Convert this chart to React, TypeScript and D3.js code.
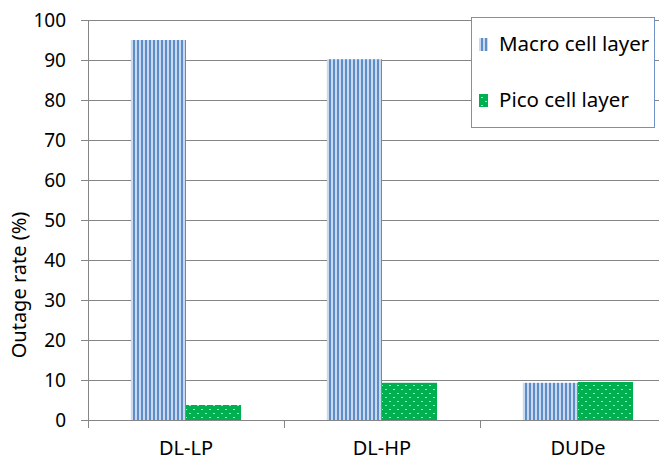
import React, { useEffect, useRef } from 'react'
import * as d3 from 'd3'

const categories = ['DL-LP', 'DL-HP', 'DUDe']
const seriesNames = ['Macro cell layer', 'Pico cell layer']
const macroValues = [95, 90.2, 9.3]
const picoValues = [3.75, 9.3, 9.5]
const yTicks = [0, 10, 20, 30, 40, 50, 60, 70, 80, 90, 100]

const FONT = '"Noto Sans", sans-serif'

export default function App() {
  const ref = useRef<SVGSVGElement | null>(null)

  useEffect(() => {
    const svg = d3.select(ref.current)
    svg.selectAll('*').remove()

    const width = 659, height = 461
    const left = 88, right = 676, top = 20, bottom = 420

    const x = d3.scaleBand().domain(categories).range([left, right])
    const inner = d3.scaleBand().domain(seriesNames).range([0, x.bandwidth()]).paddingOuter(0.78)
    const y = d3.scaleLinear().domain([0, 100]).range([bottom, top])

    const defs = svg.append('defs')
    const stripes = defs.append('pattern')
      .attr('id', 'stripes')
      .attr('patternUnits', 'userSpaceOnUse')
      .attr('width', 4).attr('height', 4)
    stripes.append('rect').attr('width', 4).attr('height', 4).attr('fill', '#c9daf0')
    stripes.append('rect').attr('x', 1).attr('width', 2).attr('height', 4).attr('fill', '#5f8dc8')

    const dots = defs.append('pattern')
      .attr('id', 'dots')
      .attr('patternUnits', 'userSpaceOnUse')
      .attr('width', 8).attr('height', 8)
    dots.append('rect').attr('width', 8).attr('height', 8).attr('fill', '#00b050')
    dots.append('rect').attr('x', 1).attr('y', 1).attr('width', 2).attr('height', 1).attr('fill', '#a8e6c2')
    dots.append('rect').attr('x', 5).attr('y', 5).attr('width', 2).attr('height', 1).attr('fill', '#a8e6c2')

    svg.append('rect').attr('width', width).attr('height', height).attr('fill', '#ffffff')

    // grid lines
    svg.append('g')
      .selectAll('line')
      .data(yTicks.filter(t => t > 0))
      .enter()
      .append('line')
        .attr('x1', left).attr('x2', right)
        .attr('y1', d => Math.round(y(d)) + 0.5)
        .attr('y2', d => Math.round(y(d)) + 0.5)
        .attr('stroke', '#868686')
        .attr('stroke-width', 1)

    // bars
    const groups = svg.append('g')
      .selectAll('g')
      .data(categories)
      .enter()
      .append('g')
        .attr('transform', d => `translate(${x(d)},0)`)

    groups.append('rect')
      .attr('x', d => inner('Macro cell layer')!)
      .attr('width', inner.bandwidth())
      .attr('y', (d, i) => y(macroValues[i]))
      .attr('height', (d, i) => bottom - y(macroValues[i]))
      .attr('fill', 'url(#stripes)')

    groups.append('rect')
      .attr('x', d => inner('Pico cell layer')!)
      .attr('width', inner.bandwidth())
      .attr('y', (d, i) => y(picoValues[i]))
      .attr('height', (d, i) => bottom - y(picoValues[i]))
      .attr('fill', 'url(#dots)')

    // y axis
    svg.append('line')
      .attr('x1', left + 0.5).attr('x2', left + 0.5)
      .attr('y1', top).attr('y2', bottom + 8)
      .attr('stroke', '#868686')

    svg.append('g')
      .selectAll('line')
      .data(yTicks)
      .enter()
      .append('line')
        .attr('x1', left - 7).attr('x2', left)
        .attr('y1', d => Math.round(y(d)) + 0.5)
        .attr('y2', d => Math.round(y(d)) + 0.5)
        .attr('stroke', '#868686')

    svg.append('g')
      .selectAll('text')
      .data(yTicks)
      .enter()
      .append('text')
        .attr('x', 66)
        .attr('y', d => y(d) + 7)
        .attr('text-anchor', 'end')
        .attr('font-family', FONT)
        .attr('font-size', 19)
        .attr('fill', '#000')
        .text(d => d)

    svg.append('text')
      .attr('transform', `translate(26,${285}) rotate(-90)`)
      .attr('text-anchor', 'middle')
      .attr('font-family', FONT)
      .attr('font-size', 20)
      .text('Outage rate (%)')

    // x axis
    svg.append('line')
      .attr('x1', left).attr('x2', right)
      .attr('y1', bottom + 0.5).attr('y2', bottom + 0.5)
      .attr('stroke', '#868686')

    svg.append('g')
      .selectAll('line')
      .data(categories.slice(1))
      .enter()
      .append('line')
        .attr('x1', d => Math.round(x(d)!) + 0.5)
        .attr('x2', d => Math.round(x(d)!) + 0.5)
        .attr('y1', bottom).attr('y2', bottom + 8)
        .attr('stroke', '#868686')

    svg.append('g')
      .selectAll('text')
      .data(categories)
      .enter()
      .append('text')
        .attr('x', d => x(d)! + x.bandwidth() / 2)
        .attr('y', 455)
        .attr('text-anchor', 'middle')
        .attr('font-family', FONT)
        .attr('font-size', 20)
        .text(d => d)

    // legend
    const legend = svg.append('g')
    legend.append('rect')
      .attr('x', 471.5).attr('y', 17.5)
      .attr('width', 183).attr('height', 110)
      .attr('fill', '#ffffff')
      .attr('stroke', '#6f93c6')

    const fills = ['url(#stripes)', 'url(#dots)']
    seriesNames.forEach((s, i) => {
      const cy = 44 + i * 56
      legend.append('rect')
        .attr('x', 479).attr('y', cy - 6)
        .attr('width', 9).attr('height', 13)
        .attr('fill', fills[i])
      legend.append('text')
        .attr('x', 499).attr('y', cy + 7)
        .attr('font-family', FONT)
        .attr('font-size', 20.5)
        .text(s)
    })
  }, [])

  return (
    <svg
      ref={ref}
      width={659}
      height={461}
      style={{ position: 'absolute', left: 0, top: 0 }}
    />
  )
}
